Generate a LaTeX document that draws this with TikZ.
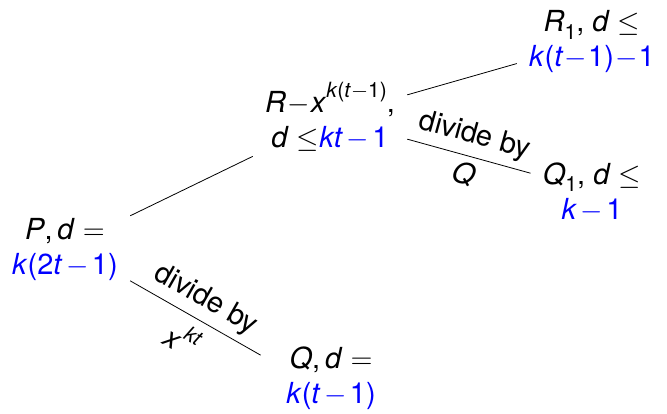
\documentclass[tikz,border=0pt]{standalone}
\usepackage{fontspec}
\setmainfont{TeX Gyre Heros}
\usepackage{xcolor}
\usepackage{tikz}

% italic letter, minus, raised and lowered indices
\newcommand{\iv}[1]{\textit{#1}}
\newcommand{\mns}{\hspace{.12em}$-$\hspace{.12em}}
\newcommand{\tmns}{\hspace{.04em}$-$\hspace{.04em}}
\newcommand{\sps}[1]{\raisebox{.5em}{\fontsize{10.5}{10.5}\selectfont #1}}
\newcommand{\sbs}[1]{\raisebox{-.25em}{\fontsize{10.5}{10.5}\selectfont #1}}

\tikzset{
  deg/.style={align=center, inner xsep=6pt, inner ysep=4.5pt},
  lbl/.style={midway, sloped},
}

\begin{document}
\begin{tikzpicture}[font=\fontsize{14.5}{17.5}\selectfont]
    \useasboundingbox (0,0) rectangle (11.721,7.258);

    % dividend and its degree
    \node[deg] (P) at (1.142,2.882) {\iv{P},\,\iv{d} $=$\\ \textcolor{blue}{\iv{k}(2\iv{t}\mns 1)}};

    % first division
    \node[deg] (R) at (5.799,5.202) {\iv{R}\tmns\iv{x}\sps{\iv{k}(\iv{t}$-$1)},\\ \iv{d} $\le$\textcolor{blue}{\iv{kt}\mns 1}};
    \node[deg, minimum width=70pt] (Q) at (5.817,0.615) {\iv{Q},\,\iv{d} $=$\\ \textcolor{blue}{\iv{k}(\iv{t}\mns 1)}};

    % second division
    \node[deg] (R1) at (10.403,6.520) {\iv{R}\sbs{1}, \iv{d} $\le$\\ \textcolor{blue}{\iv{k}(\iv{t}\tmns 1)\tmns 1}};
    \node[deg] (Q1) at (10.403,3.884) {\iv{Q}\sbs{1}, \iv{d} $\le$\\ \textcolor{blue}{\iv{k}\mns 1}};

    % branches
    \draw (P.27) -- (R.207);
    \draw (P.-26) -- (Q.162) node[lbl, above] {divide by} node[lbl, below=1pt] {\iv{x}\sps{\iv{kt}}};
    \draw (R.16) -- (R1.196);
    \draw (R.-16) -- (Q1.163) node[lbl, above] {divide by} node[lbl, below] {\iv{Q}};
\end{tikzpicture}
\end{document}
